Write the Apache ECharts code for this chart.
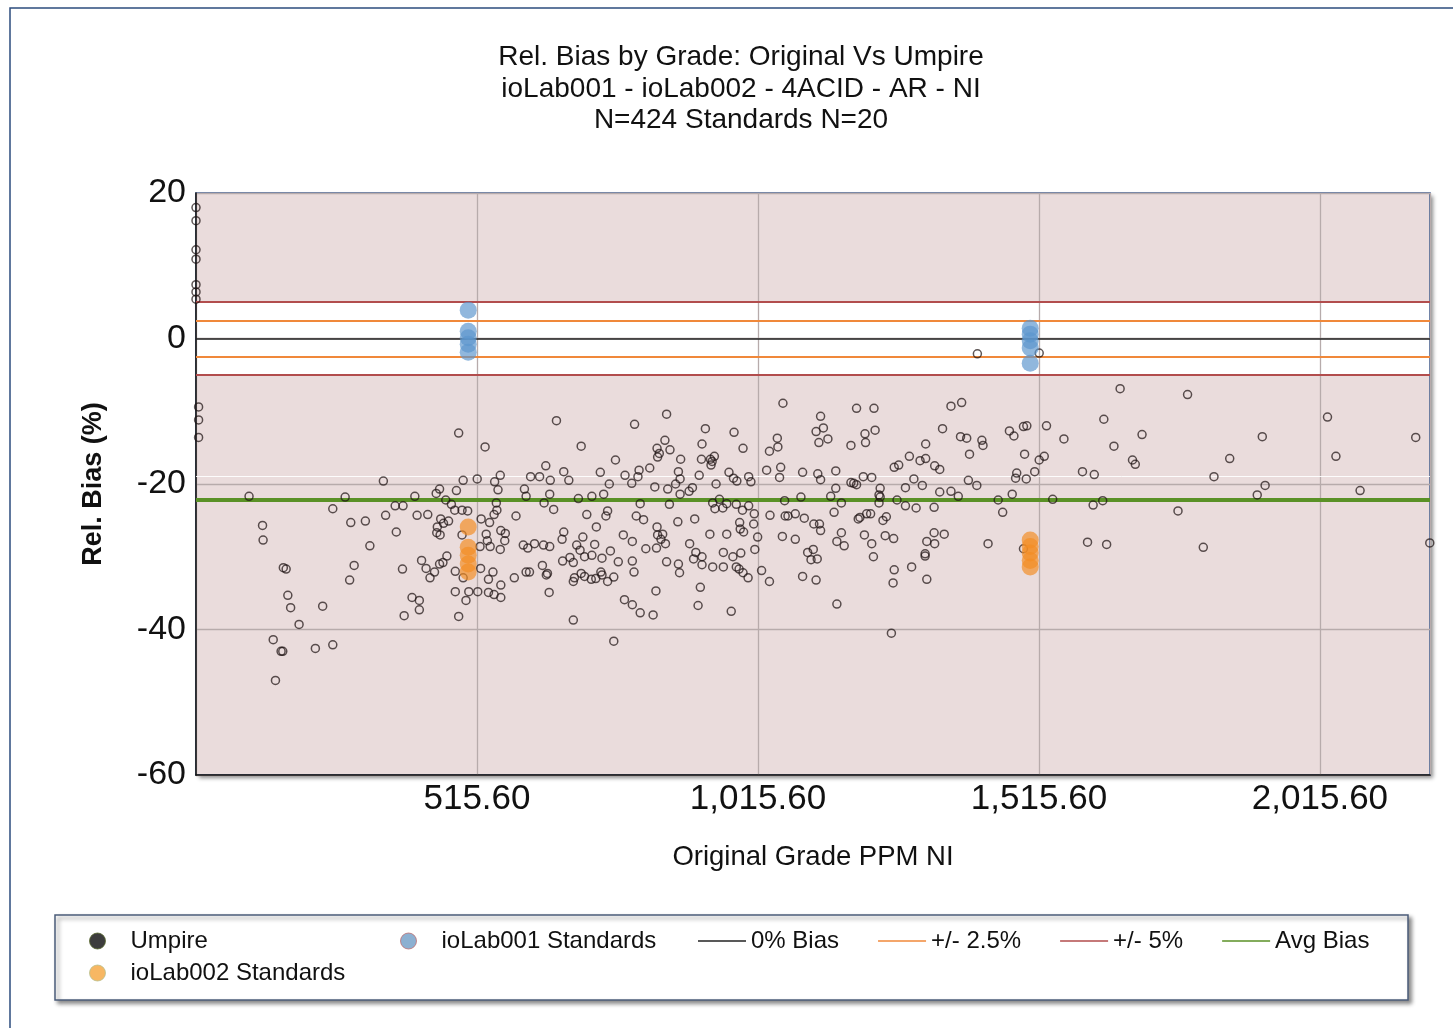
<!DOCTYPE html>
<html lang="en">
<head>
<meta charset="UTF-8" />
<title>Rel. Bias by Grade: Original Vs Umpire</title>
<script src="https://cdn.jsdelivr.net/npm/echarts@6/dist/echarts.min.js"></script>
<style>
  body { margin: 0; padding: 0; background: #fff; }
  #main { width: 1453px; height: 1028px; }
</style>
</head>
<body>
<div id="main"></div>
<script>
// Umpire points: [original grade PPM, rel. bias %]
const umpire = [
  [15.6,18.0],[15.6,16.2],[15.6,12.2],[15.6,10.9],[15.6,7.4],[15.6,6.4],[15.6,5.4],[20.2,-9.4],[20.2,-11.2],[20.2,-13.6],
  [349,-19.6],[110,-21.7],[281,-21.8],[259,-23.4],[370,-23.0],[353,-24.3],[134,-25.7],[291,-25.3],[317,-25.1],[372,-26.6],
  [135,-27.7],[325,-28.5],[171,-31.5],[176,-31.7],[297,-31.2],[289,-33.2],[179,-35.3],[184,-37.0],[241,-36.8],[199,-39.3],
  [153,-41.4],[170,-43.0],[167,-43.0],[228,-42.6],[259,-42.1],[157,-47.0],
  [657,-11.3],[483,-13.0],[530,-14.9],[701,-14.8],[638,-17.5],[557,-18.8],[670,-18.3],[491,-19.5],[516,-19.3],[547,-19.7],
  [553,-20.8],[611,-19.0],[627,-19.0],[646,-19.5],[679,-19.5],[449,-20.7],[479,-20.9],[443,-21.3],[600,-20.7],[603,-21.7],
  [645,-21.4],[696,-22.0],[720,-21.7],[405,-21.7],[460,-22.2],[470,-22.8],[384,-23.0],[550,-22.6],[635,-22.6],[652,-23.5],
  [476,-23.6],[489,-23.6],[499,-23.7],[551,-23.6],[409,-24.3],[428,-24.2],[546,-24.2],[585,-24.4],[711,-24.2],[451,-24.8],
  [465,-25.1],[456,-25.4],[445,-25.9],[523,-24.8],[538,-25.3],[728,-25.9],[444,-26.7],[450,-27.0],[489,-27.0],[532,-26.9],
  [558,-26.4],[566,-26.8],[565,-27.8],[534,-27.8],[539,-28.6],[521,-28.6],[557,-29.0],[670,-26.6],[667,-27.6],[704,-27.3],
  [693,-28.4],[699,-29.1],[598,-28.4],[606,-28.8],[618,-28.2],[634,-28.4],[645,-28.6],[725,-28.3],[707,-30.0],[720,-29.8],
  [417,-30.5],[449,-31.0],[455,-30.8],[462,-29.9],[425,-31.6],[440,-32.1],[432,-32.9],[477,-32.0],[491,-32.9],[522,-31.6],
  [544,-32.1],[536,-33.1],[582,-32.9],[603,-32.1],[609,-32.1],[632,-31.2],[639,-32.5],[641,-32.3],[668,-30.6],[681,-30.1],
  [687,-30.8],[689,-32.9],[687,-33.4],[701,-32.3],[707,-32.7],[719,-33.1],[727,-33.0],[477,-34.8],[501,-34.8],[517,-34.8],
  [496,-36.0],[536,-34.9],[546,-35.2],[558,-35.6],[558,-33.9],[644,-34.9],[400,-35.6],[413,-36.0],[413,-37.3],[386,-38.1],
  [483,-38.2],[687,-38.7],[383,-31.7],
  [1060,-8.9],[853,-10.4],[796,-11.8],[922,-12.4],[973,-12.9],[1050,-13.7],[850,-14.0],[916,-14.5],[989,-15.1],[1036,-15.5],
  [1051,-14.9],[836,-15.1],[840,-15.8],[837,-16.3],[859,-15.3],[762,-16.7],[878,-16.6],[915,-16.6],[931,-16.6],[938,-16.2],
  [934,-16.9],[932,-17.4],[735,-18.4],[779,-18.8],[804,-18.1],[802,-19.0],[823,-17.8],[874,-18.3],[911,-18.8],[964,-18.4],
  [972,-19.2],[978,-19.6],[999,-19.0],[1003,-19.7],[1031,-18.1],[1056,-17.7],[1054,-19.1],[751,-20.0],[791,-19.9],[832,-20.4],
  [855,-20.7],[869,-20.0],[877,-19.3],[899,-20.5],[893,-21.0],[877,-21.4],[941,-20.0],[741,-21.4],[806,-22.7],[858,-22.8],
  [935,-22.6],[947,-22.1],[939,-23.4],[953,-23.3],[960,-22.7],[977,-22.8],[988,-23.6],[999,-23.0],[1063,-22.3],[748,-23.7],
  [745,-24.4],[799,-24.4],[812,-24.9],[873,-25.2],[903,-24.8],[1009,-24.1],[983,-25.3],[984,-26.2],[990,-26.6],[1008,-25.5],
  [1037,-24.3],[1064,-24.4],[1069,-24.4],[1082,-24.1],[776,-27.0],[792,-27.9],[836,-25.9],[837,-27.0],[846,-26.9],[843,-27.6],
  [851,-28.2],[930,-26.9],[960,-26.9],[1015,-27.3],[1059,-27.2],[1082,-27.6],[816,-28.9],[835,-28.8],[894,-28.2],[753,-29.2],
  [738,-30.2],[767,-30.7],[792,-30.6],[853,-30.7],[874,-31.0],[905,-29.4],[901,-30.3],[916,-30.0],[916,-31.1],[935,-31.4],
  [954,-29.4],[954,-31.4],[971,-30.0],[985,-29.5],[977,-31.4],[982,-31.7],[989,-32.2],[998,-32.9],[1010,-29.0],[1022,-31.9],
  [1036,-33.4],[736,-32.1],[738,-32.5],[748,-33.4],[759,-32.8],[795,-32.1],[876,-32.2],[913,-34.2],[834,-34.7],[778,-35.9],
  [792,-36.6],[806,-37.7],[829,-38.0],[909,-36.7],[968,-37.5],[759,-41.6],
  [1378,-8.8],[1359,-9.3],[1191,-9.6],[1222,-9.6],[1127,-10.7],[1119,-12.8],[1132,-12.3],[1124,-14.3],[1140,-13.8],[1181,-14.7],
  [1206,-13.1],[1224,-12.6],[1207,-14.3],[1344,-12.4],[1376,-13.5],[1387,-13.7],[1414,-14.0],[1416,-14.7],[1392,-15.9],[1314,-14.5],
  [1285,-16.2],[1304,-16.8],[1314,-16.5],[1258,-17.7],[1266,-17.4],[1330,-17.5],[1339,-18.0],[1095,-18.4],[1122,-18.6],[1127,-19.4],
  [1154,-18.2],[1181,-19.8],[1186,-19.9],[1191,-20.1],[1203,-19.0],[1218,-19.1],[1154,-20.6],[1233,-20.6],[1231,-21.5],[1233,-21.8],
  [1278,-20.5],[1293,-19.3],[1308,-20.2],[1390,-19.5],[1405,-20.2],[1339,-21.1],[1359,-21.0],[1372,-21.7],[1092,-21.8],[1145,-21.7],
  [1164,-22.6],[1231,-22.6],[1263,-22.2],[1278,-23.0],[1297,-23.3],[1329,-23.2],[1443,-22.2],[1098,-24.7],[1151,-23.9],[1194,-24.8],
  [1197,-24.6],[1209,-24.1],[1216,-24.1],[1238,-25.0],[1244,-24.5],[1115,-25.5],[1125,-25.5],[1127,-26.4],[1164,-26.7],[1205,-27.0],
  [1242,-27.1],[1257,-27.5],[1329,-26.7],[1347,-26.9],[1316,-27.9],[1330,-28.2],[1425,-28.2],[1156,-27.9],[1169,-28.5],[1218,-28.2],
  [1104,-29.4],[1114,-29.0],[1110,-30.4],[1121,-30.3],[1221,-30.0],[1313,-29.6],[1313,-29.9],[1095,-32.7],[1119,-33.2],[1258,-31.8],
  [1289,-31.4],[1316,-33.1],[1256,-33.6],[1156,-36.5],[1253,-40.5],[1406,-2.1],
  [1516,-2.0],[1660,-6.9],[1780,-7.7],[1631,-11.1],[1463,-12.7],[1471,-13.4],[1488,-12.1],[1494,-12.0],[1529,-12.0],[1560,-13.8],
  [1699,-13.2],[1649,-14.8],[1490,-15.9],[1516,-16.7],[1525,-16.2],[1682,-16.7],[1687,-17.3],[1476,-18.5],[1474,-19.2],[1493,-19.3],
  [1508,-18.3],[1593,-18.3],[1614,-18.7],[1468,-21.4],[1540,-22.1],[1612,-22.9],[1629,-22.3],[1451,-23.9],[1763,-23.7],[1602,-28.0],
  [1636,-28.3],[1488,-28.9],
  [2029,-10.8],[1913,-13.5],[2186,-13.6],[1855,-16.5],[2044,-16.2],[1827,-19.0],[1918,-20.2],[1904,-21.5],[2087,-20.9],[1808,-28.7],
  [2211,-28.1]
];

// Standards
const lab001 = [
  [500,3.9],[500,1.0],[500,0.1],[500,-0.8],[500,-1.9],
  [1500,1.4],[1500,0.6],[1500,-0.3],[1500,-1.3],[1500,-3.4]
];
const lab002 = [
  [500,-25.9],[500,-28.7],[500,-29.8],[500,-31.0],[500,-32.1],
  [1500,-27.7],[1500,-28.6],[1500,-29.5],[1500,-30.5],[1500,-31.4]
];

// Reference lines
const zeroBias = [0];
const band25 = [2.5, -2.5];
const band5 = [5, -5];
const avgBias = [-22.1];

const xMin = 15.6;
const xMax = 2211.4;
const xStep = 500;
const yMin = -60;
const yMax = 20;

// background bands: [from, to], pink outside +/-5%, white inside
const bands = [
  [yMax, band5[0]],
  [band5[0], band5[1]],
  [band5[1], yMin],
];
const bandColors = ["#eadcdc", "#ffffff", "#eadcdc"];

const FONT = "'Liberation Sans', Arial, sans-serif";
const LINE_ICON = "path://M0,0H48V1.6H0Z";

const chart = echarts.init(document.getElementById("main"));

function refLine(name, values, color, width) {
  return {
    name: name,
    type: "line",
    data: [],
    symbol: "none",
    color: color,
    itemStyle: { color: color },
    lineStyle: { color: color, width: 1.5 },
    markLine: {
      silent: true,
      symbol: "none",
      animation: false,
      z: 5,
      label: { show: false },
      lineStyle: { color: color, width: width, type: "solid" },
      data: values.map((v) => ({ yAxis: v })),
    },
  };
}

const legendText = { fontFamily: FONT, fontSize: 24, color: "#111" };

const option = {
  animation: false,
  backgroundColor: "#fff",
  title: {
    text: "Rel. Bias by Grade: Original Vs Umpire\nioLab001 - ioLab002 - 4ACID - AR - NI\nN=424 Standards N=20",
    left: 736,
    top: 37,
    textAlign: "center",
    textStyle: {
      fontFamily: FONT,
      fontSize: 28,
      fontWeight: "normal",
      color: "#111",
      lineHeight: 31.5,
    },
  },
  graphic: [
    {
      type: "rect",
      silent: true,
      z: -20,
      shape: { x: 10, y: 8, width: 1470, height: 1050 },
      style: { fill: "none", stroke: "#2d4c7e", lineWidth: 1.5 },
    },
    {
      type: "rect",
      silent: true,
      z: -10,
      shape: { x: 196, y: 193, width: 1234, height: 582 },
      style: {
        fill: "#fff",
        shadowBlur: 4,
        shadowOffsetX: 3,
        shadowOffsetY: 3,
        shadowColor: "rgba(0,0,0,0.45)",
      },
    },
    {
      type: "rect",
      silent: true,
      z: -5,
      shape: { x: 55, y: 915, width: 1353, height: 85 },
      style: {
        fill: "#fff",
        stroke: "#4b5c7a",
        lineWidth: 1.5,
        shadowBlur: 4,
        shadowOffsetX: 3,
        shadowOffsetY: 3,
        shadowColor: "rgba(0,0,0,0.45)",
      },
    },
  ],
  legend: [
    {
      left: 84,
      top: 924,
      orient: "vertical",
      itemWidth: 56,
      itemHeight: 16,
      itemGap: 8,
      icon: "circle",
      selectedMode: false,
      textStyle: legendText,
      data: [
        { name: "Umpire", itemStyle: { color: "#0d0d0d", borderColor: "#5a6a30", borderWidth: 1 } },
        { name: "ioLab002 Standards", itemStyle: { color: "#f5a53c", borderColor: "#b8c090", borderWidth: 1 } },
      ],
    },
    {
      left: 395,
      top: 924,
      itemWidth: 56,
      itemHeight: 16,
      icon: "circle",
      selectedMode: false,
      textStyle: legendText,
      data: [
        { name: "ioLab001 Standards", itemStyle: { color: "#6f9cc6", borderColor: "#c07070", borderWidth: 1 } },
      ],
    },
    {
      left: 693,
      top: 924,
      itemWidth: 48,
      itemHeight: 16,
      itemGap: 39,
      icon: LINE_ICON,
      selectedMode: false,
      textStyle: legendText,
      data: ["0% Bias", "+/- 2.5%", "+/- 5%", "Avg Bias"],
    },
  ],
  grid: {
    left: 196,
    top: 193,
    width: 1234,
    height: 582,
    show: true,
    backgroundColor: "transparent",
    borderColor: "#34548a",
    borderWidth: 1.5,
  },
  xAxis: {
    type: "value",
    min: xMin,
    max: xMax,
    interval: xStep,
    name: "Original Grade PPM NI",
    nameLocation: "middle",
    nameGap: 68,
    nameTextStyle: { fontFamily: FONT, fontSize: 27.5, color: "#111" },
    axisLine: { onZero: false, lineStyle: { color: "#111", width: 1.5 } },
    axisTick: { show: false },
    axisLabel: {
      fontFamily: FONT,
      fontSize: 35,
      color: "#111",
      margin: 7,
      showMinLabel: false,
      showMaxLabel: false,
      formatter: (v) =>
        v.toLocaleString("en-US", { minimumFractionDigits: 2, maximumFractionDigits: 2 }),
    },
    splitLine: { lineStyle: { color: "#b7abab", width: 1.3 } },
  },
  yAxis: {
    type: "value",
    min: yMin,
    max: yMax,
    interval: 20,
    name: "Rel. Bias (%)",
    nameLocation: "middle",
    nameGap: 89,
    nameTextStyle: { fontFamily: FONT, fontSize: 27, fontWeight: "bold", color: "#111" },
    axisLine: { show: true, lineStyle: { color: "#111", width: 1.5 } },
    axisTick: { show: false },
    axisLabel: { fontFamily: FONT, fontSize: 34, color: "#111", margin: 10 },
    splitLine: { lineStyle: { color: "#b7abab", width: 1.3 } },
  },
  series: [
    {
      type: "custom",
      z: -1,
      silent: true,
      data: bands,
      renderItem: function (params, api) {
        const p0 = api.coord([xMin, api.value(0)]);
        const p1 = api.coord([xMax, api.value(1)]);
        return {
          type: "rect",
          shape: { x: p0[0], y: p0[1], width: p1[0] - p0[0], height: p1[1] - p0[1] },
          style: { fill: bandColors[params.dataIndex] },
        };
      },
      markLine: {
        silent: true,
        symbol: "none",
        z: 1,
        animation: false,
        label: { show: false },
        lineStyle: { color: "rgba(255,255,255,0.9)", width: 1, type: "solid" },
        data: [{ yAxis: -18.9 }],
      },
    },
    refLine("0% Bias", zeroBias, "#222222", 1.5),
    refLine("+/- 2.5%", band25, "#f0883a", 1.8),
    refLine("+/- 5%", band5, "#b24d4d", 1.8),
    refLine("Avg Bias", avgBias, "#5a9126", 4),
    {
      name: "Umpire",
      type: "scatter",
      data: umpire,
      symbol: "circle",
      symbolSize: 8,
      z: 10,
      itemStyle: {
        color: "rgba(0,0,0,0)",
        borderColor: "rgba(30,20,20,0.9)",
        borderWidth: 1.5,
      },
    },
    {
      name: "ioLab001 Standards",
      type: "scatter",
      data: lab001,
      symbol: "circle",
      symbolSize: 17,
      z: 11,
      itemStyle: { color: "rgba(92,150,205,0.85)" },
    },
    {
      name: "ioLab002 Standards",
      type: "scatter",
      data: lab002,
      symbol: "circle",
      symbolSize: 17,
      z: 11,
      itemStyle: { color: "rgba(243,140,35,0.85)" },
    },
  ],
};

chart.setOption(option);
</script>
</body>
</html>
